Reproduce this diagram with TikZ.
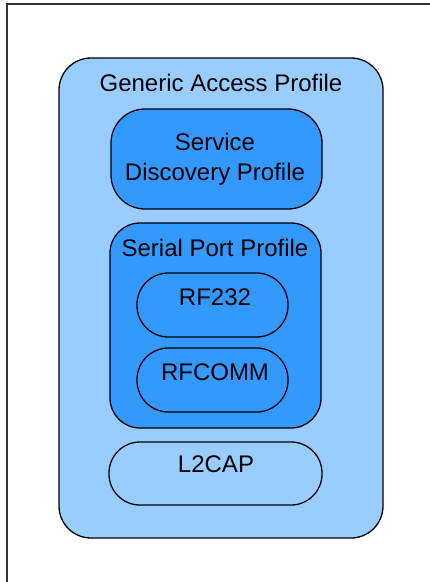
\documentclass[tikz,border=0pt]{standalone}
\usepackage{fontspec}
\setmainfont{Liberation Sans}
\definecolor{paleblue}{HTML}{99CCFF}
\definecolor{midblue}{HTML}{3399FF}
\begin{document}
\begin{tikzpicture}[x=1pt,y=-1pt,
  box/.style={draw=black,line width=1.3pt,inner sep=0pt,outer sep=0pt},
  lbl/.style={inner sep=0pt,font=\fontsize{24}{30}\selectfont,align=center,text=black}]
\useasboundingbox (0,0) rectangle (430,582);
% page frame, only its top and left edges fall inside the page
\draw[line width=1.4pt,draw=black!80] (430,4) -- (7,4) -- (7,582);
% Generic Access Profile
\node[box,fill=paleblue,rounded corners=32pt,minimum width=324pt,minimum height=480pt] (gap) at (221,298) {};
\node[lbl] (gapt) at (221,83) {Generic Access Profile};
% Service Discovery Profile
\node[box,fill=midblue,rounded corners=34pt,minimum width=211pt,minimum height=100pt] (sdp) at (216.5,159) {};
\node[lbl] (sdpt) at (215,159.5) {Service\\Discovery Profile};
% Serial Port Profile
\node[box,fill=midblue,rounded corners=30pt,minimum width=211pt,minimum height=205pt] (spp) at (215.5,325.5) {};
\node[lbl] (sppt) at (215,247.5) {Serial Port Profile};
\node[box,fill=midblue,rounded corners=31.5pt,minimum width=151pt,minimum height=64pt] (rf) at (212.5,305) {};
\node[lbl] (rft) at (215,297.5) {RF232};
\node[box,fill=midblue,rounded corners=31.5pt,minimum width=151pt,minimum height=64pt] (rfc) at (212.5,380) {};
\node[lbl] (rfct) at (215,372.5) {RFCOMM};
% L2CAP
\node[box,fill=paleblue,rounded corners=31pt,minimum width=213pt,minimum height=63pt] (l2) at (215.5,473.5) {};
\node[lbl] (l2t) at (216,464.5) {L2CAP};
\end{tikzpicture}
\end{document}
